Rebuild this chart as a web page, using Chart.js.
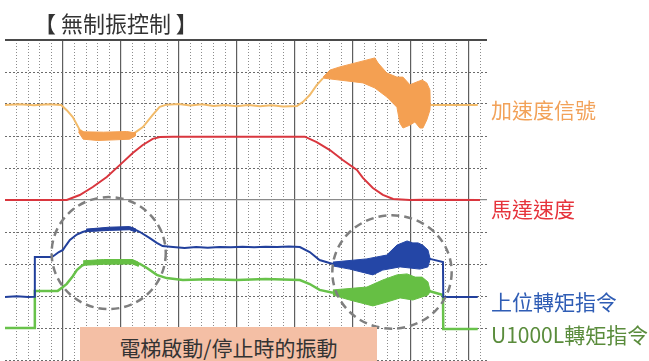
<!DOCTYPE html>
<html lang="zh-Hant">
<head>
<meta charset="utf-8">
<title>無制振控制</title>
<script src="https://cdn.jsdelivr.net/npm/chart.js@4.4.1/dist/chart.umd.min.js"></script>
<style>
  html, body { margin: 0; padding: 0; background: #fff; }
  #wrap { position: relative; width: 649px; height: 361px; overflow: hidden;
          font-family: "Noto Sans CJK TC", "Noto Sans", sans-serif; }
  #scope { position: absolute; left: 0; top: 0; }
  .title { position: absolute; left: 34px; top: 9px; font-size: 22px; line-height: 26px;
           font-family: "Noto Sans CJK JP", "Noto Sans CJK TC", sans-serif;
           color: #333; white-space: nowrap; }
  .note { position: absolute; left: 80px; top: 327px; width: 297px; height: 34px;
          background: #f4bfa5; color: #333; font-size: 21px; line-height: 40px; text-align: center; }
  .tag { position: absolute; left: 491px; font-size: 21px; line-height: 22px; white-space: nowrap; }
</style>
</head>
<body>
<div id="wrap">
  <canvas id="scope" width="649" height="361"></canvas>
  <div class="title">【 無制振控制 】</div>
  <div class="note">電梯啟動/停止時的振動</div>
  <div class="tag" style="top:98px;color:#f2a259;">加速度信號</div>
  <div class="tag" style="top:197px;color:#e6343c;">馬達速度</div>
  <div class="tag" style="top:290px;color:#2f5db5;">上位轉矩指令</div>
  <div class="tag" style="top:323px;color:#5a8c3c;">U1000L轉矩指令</div>
</div>
<script>
// Time axis in major divisions (5 minor per major), level axis in vertical divisions
const timeRange = [0, 8.32];
const levelRange = [0, 10];
const minorStep = 0.2;
const majorStep = 1;
const solidLevels = [5, 10];

// Acceleration signal (thin trace + two vibration envelopes)
const accelLine = [
    [0, 7.97], [0.25, 7.99], [0.5, 7.96], [0.75, 7.99], [0.97, 7.97], [1.07, 7.8], [1.17, 7.59],
    [1.29, 7.19], [1.38, 7.08], [2.2, 7.05], [2.38, 7.28], [2.55, 7.66], [2.67, 7.91], [2.79, 7.98],
    [3.0, 8.0], [3.2, 7.95], [3.4, 7.99], [3.6, 7.94], [3.8, 7.97], [4.0, 7.93], [4.2, 7.97],
    [4.4, 7.93], [4.6, 7.96], [4.8, 7.92], [5.04, 7.94], [5.14, 8.06], [5.26, 8.28], [5.38, 8.59],
    [5.49, 8.81], [6.5, null], [7.34, 7.97], [8.16, 7.97]
];
const accelStartUpper = [[1.27, 7.2], [1.35, 7.13], [1.7, 7.12], [2.1, 7.14], [2.25, 7.1]];
const accelStartLower = [[1.27, 7.12], [1.35, 6.9], [1.6, 6.86], [1.9, 6.88], [2.15, 6.9], [2.25, 7.0]];
const accelStopUpper = [
    [5.49, 8.84], [5.61, 9.06], [5.78, 9.16], [6.385, 9.44], [6.44, 9.28], [6.59, 8.97], [6.765, 8.84],
    [6.87, 8.84], [6.99, 8.6], [7.11, 8.69], [7.2, 8.75], [7.28, 8.66], [7.335, 8.44], [7.34, 7.97]
];
const accelStopLower = [
    [5.49, 8.81], [6.18, 8.66], [6.385, 8.5], [6.59, 8.22], [6.765, 7.9], [6.817, 7.4], [6.87, 7.25],
    [6.99, 7.34], [7.076, 7.44], [7.16, 7.25], [7.214, 7.25], [7.28, 7.5], [7.335, 7.81], [7.34, 7.97]
];

// Motor speed
const speedLine = [
    [0, 5.0], [1.066, 5.0], [1.29, 5.156], [1.515, 5.406], [1.757, 5.72], [1.98, 6.09], [2.205, 6.47],
    [2.378, 6.72], [2.55, 6.91], [2.672, 6.97], [2.9, 6.98], [5.176, 6.98], [5.38, 6.81], [5.608, 6.56],
    [5.83, 6.25], [6.075, 5.94], [6.178, 5.69], [6.35, 5.375], [6.523, 5.16], [6.7, 5.03], [6.99, 5.0],
    [7.2, 5.01], [8.2, 5.0]
];

// Host torque command
const hostTorqueLine = [
    [0, 1.97], [0.2, 1.99], [0.4, 1.97], [0.51, 1.98], [0.515, 3.22], [0.81, 3.22], [0.86, 3.28],
    [0.93, 3.375], [1.0, 3.44], [1.06, 3.6], [1.12, 3.75], [1.24, 3.92], [1.34, 4.0], [1.46, 4.06],
    [1.64, 4.09], [2.2, 4.12], [2.33, 4.0], [2.5, 3.81], [2.62, 3.66], [2.72, 3.56], [2.9, 3.53],
    [3.1, 3.5], [3.3, 3.53], [3.5, 3.51], [3.7, 3.53], [3.9, 3.52], [4.1, 3.54], [4.3, 3.52],
    [4.5, 3.54], [4.7, 3.53], [4.9, 3.55], [5.09, 3.53], [5.26, 3.375], [5.43, 3.125], [5.66, 3.0],
    [6.5, null], [7.335, 3.16], [7.56, 3.06], [7.565, 1.97], [8.16, 1.97]
];
const hostTorqueStartUpper = [[1.4, 4.09], [1.8, 4.15], [2.15, 4.17], [2.25, 4.1]];
const hostTorqueStartLower = [[1.4, 4.01], [1.8, 4.05], [2.15, 4.07], [2.25, 4.0]];
const hostTorqueStopUpper = [
    [5.66, 3.06], [6.247, 3.16], [6.59, 3.28], [6.765, 3.59], [6.94, 3.72], [7.04, 3.66],
    [7.13, 3.66], [7.21, 3.59], [7.3, 3.44], [7.335, 3.19]
];
const hostTorqueStopLower = [
    [5.66, 2.94], [5.95, 2.84], [6.35, 2.66], [6.52, 2.81], [6.82, 2.91], [6.99, 2.875],
    [7.16, 2.84], [7.3, 2.91], [7.335, 3.125]
];

// U1000L torque command
const driveTorqueLine = [
    [0, 1.0], [0.51, 1.0], [0.515, 2.16], [0.91, 2.16], [1.0, 2.28], [1.066, 2.38], [1.17, 2.62],
    [1.24, 2.81], [1.33, 2.95], [1.41, 3.03], [1.64, 3.06], [2.2, 3.06], [2.33, 3.0], [2.45, 2.875],
    [2.62, 2.66], [2.79, 2.56], [3.07, 2.5], [3.5, 2.52], [4.0, 2.5], [4.5, 2.53], [5.09, 2.5],
    [5.26, 2.375], [5.43, 2.19], [5.66, 2.1], [6.5, null], [7.335, 2.15], [7.56, 2.03],
    [7.565, 0.97], [8.16, 0.97]
];
const driveTorqueStartUpper = [[1.35, 3.1], [1.7, 3.14], [2.2, 3.14], [2.3, 3.06]];
const driveTorqueStartLower = [[1.35, 2.96], [1.7, 2.99], [2.2, 3.0], [2.3, 2.93]];
const driveTorqueStopUpper = [
    [5.66, 2.19], [6.247, 2.28], [6.52, 2.5], [6.765, 2.66], [6.94, 2.69], [7.08, 2.59],
    [7.2, 2.59], [7.3, 2.44], [7.335, 2.19]
];
const driveTorqueStopLower = [
    [5.66, 2.03], [5.95, 1.875], [6.35, 1.69], [6.59, 1.81], [6.82, 1.94], [7.04, 1.875],
    [7.3, 2.03], [7.335, 2.125]
];

// Dashed rings around the start / stop vibration (center, radius in axis units)
const ringCenters = [[1.79, 3.34], [6.68, 2.75]];
const ringRadii = [[0.985, 1.75], [1.03, 1.77]];

function toXY(points) {
    return points.map(p => ({ x: p[0], y: p[1] }));
}

// Plain trace
function trace(points, color, width) {
    return {
        data: toXY(points),
        borderColor: color,
        borderWidth: width,
        pointRadius: 0,
        showLine: true,
        spanGaps: false,
        fill: false
    };
}

// Filled envelope built from its upper and lower edges
function envelope(upper, lower, color) {
    return {
        data: toXY(upper.concat(lower.slice().reverse())),
        borderColor: color,
        backgroundColor: color,
        borderWidth: 1,
        pointRadius: 0,
        showLine: true,
        fill: 'shape'
    };
}

// Keep only ticks that land on a step, optionally dropping another step
function stepTicks(step, skip) {
    return function(axis) {
        const ticks = [];
        for (let v = axis.min; v <= axis.max + 1e-9; v += step) {
            const r = Math.round(v / step) * step;
            if (skip && Math.abs(r / skip - Math.round(r / skip)) < 1e-6) continue;
            ticks.push({ value: r });
        }
        axis.ticks = ticks;
    };
}

const ringPlugin = {
    id: 'rings',
    afterDatasetsDraw(chart) {
        const ctx = chart.ctx;
        const x = chart.scales.x;
        const y = chart.scales.y;
        ctx.save();
        ctx.strokeStyle = '#7f7f7f';
        ctx.lineWidth = 2.5;
        ctx.setLineDash([8, 5]);
        ringCenters.forEach((c, i) => {
            const cx = x.getPixelForValue(c[0]);
            const cy = y.getPixelForValue(c[1]);
            const rx = x.getPixelForValue(c[0] + ringRadii[i][0]) - cx;
            const ry = cy - y.getPixelForValue(c[1] + ringRadii[i][1]);
            ctx.beginPath();
            ctx.ellipse(cx, cy, rx, ry, 0, 0, Math.PI * 2);
            ctx.stroke();
        });
        ctx.restore();
    }
};

const hidden = { display: false };

new Chart(document.getElementById('scope'), {
    type: 'scatter',
    data: {
        datasets: [
            envelope(accelStopUpper, accelStopLower, '#f4a052'),
            envelope(accelStartUpper, accelStartLower, '#f4a052'),
            envelope(hostTorqueStopUpper, hostTorqueStopLower, '#2446a6'),
            envelope(hostTorqueStartUpper, hostTorqueStartLower, '#24409c'),
            envelope(driveTorqueStopUpper, driveTorqueStopLower, '#66bf44'),
            envelope(driveTorqueStartUpper, driveTorqueStartLower, '#66bf44'),
            trace(accelLine, '#f2bb6a', 2),
            trace(speedLine, '#d9363e', 2),
            trace(hostTorqueLine, '#22409c', 2),
            trace(driveTorqueLine, '#68c24a', 2.5)
        ]
    },
    options: {
        responsive: false,
        animation: false,
        layout: { padding: { left: 5, top: 40, right: 162, bottom: 1 } },
        plugins: { legend: hidden, tooltip: { enabled: false } },
        scales: {
            x: {
                type: 'linear', min: timeRange[0], max: timeRange[1],
                ticks: hidden, border: { display: false, dash: [1, 2] },
                grid: { color: '#8c8c8c', lineWidth: 1, drawTicks: false },
                afterBuildTicks: stepTicks(minorStep, majorStep)
            },
            xMajor: {
                type: 'linear', position: 'bottom', min: timeRange[0], max: timeRange[1],
                ticks: hidden, border: hidden,
                grid: { color: '#5e5e5e', lineWidth: 1.2, drawTicks: false },
                afterBuildTicks: function(axis) {
                    stepTicks(majorStep)(axis);
                    axis.ticks = axis.ticks.filter(t => t.value > 0);
                }
            },
            y: {
                type: 'linear', min: levelRange[0], max: levelRange[1],
                ticks: hidden, border: { display: false, dash: [2, 2] },
                grid: { color: '#6a6a6a', lineWidth: 1, drawTicks: false },
                afterBuildTicks: function(axis) {
                    stepTicks(1)(axis);
                    axis.ticks = axis.ticks.filter(t => solidLevels.indexOf(t.value) < 0);
                }
            },
            yMajor: {
                type: 'linear', position: 'left', min: levelRange[0], max: levelRange[1],
                ticks: hidden, border: hidden,
                grid: {
                    color: ctx => ctx.tick && ctx.tick.value === levelRange[1] ? '#4a4a4a' : '#8a8a8a',
                    lineWidth: ctx => ctx.tick && ctx.tick.value === levelRange[1] ? 2 : 1.2,
                    drawTicks: false
                },
                afterBuildTicks: function(axis) {
                    axis.ticks = solidLevels.map(v => ({ value: v }));
                }
            }
        }
    },
    plugins: [ringPlugin]
});
</script>
</body>
</html>
